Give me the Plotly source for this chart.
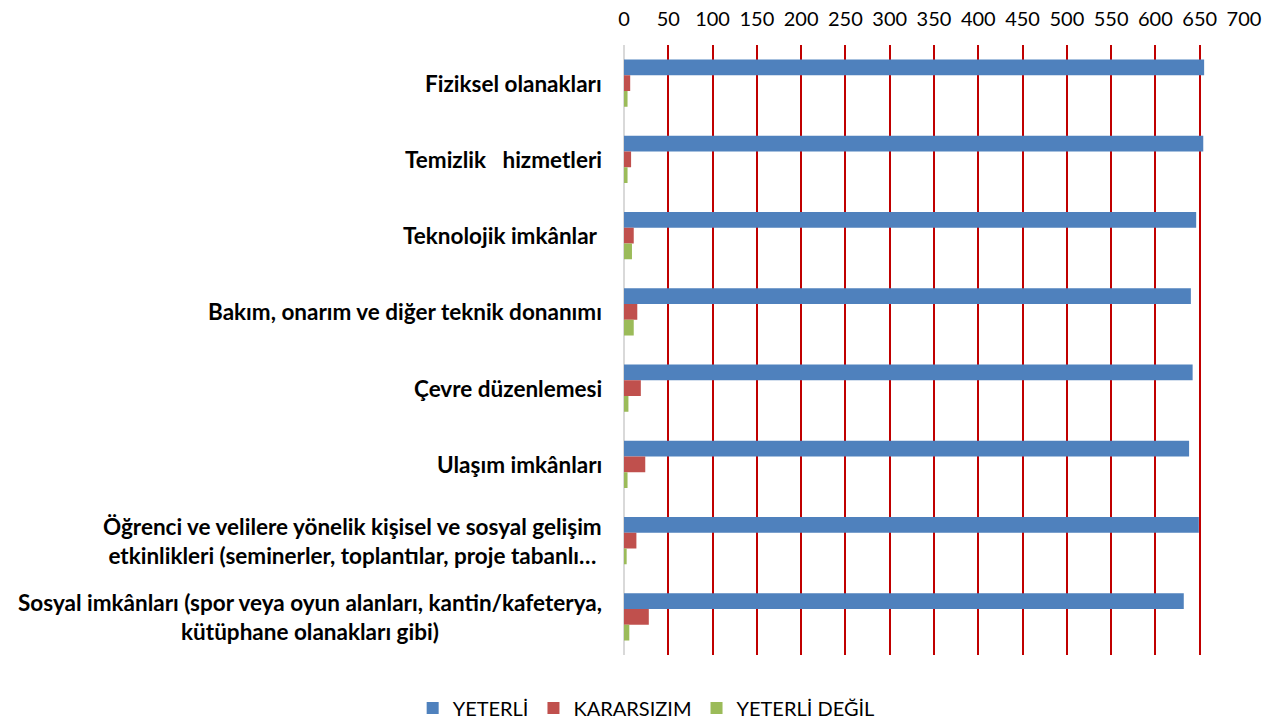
import plotly.graph_objects as go

categories = [
    "Fiziksel olanakları",
    "Temizlik   hizmetleri",
    "Teknolojik imkânlar ",
    "Bakım, onarım ve diğer teknik donanımı",
    "Çevre düzenlemesi",
    "Ulaşım imkânları",
    "Öğrenci ve velilere yönelik kişisel ve sosyal gelişim<br>etkinlikleri (seminerler, toplantılar, proje tabanlı…",
    "Sosyal imkânları (spor veya oyun alanları, kantin/kafeterya,<br>kütüphane olanakları gibi)",
]
yeterli = [655, 654, 646, 640, 642, 638, 649, 632]
kararsizim = [7, 8, 11, 15, 19, 24, 14, 28]
yeterli_degil = [4, 4, 9, 11, 5, 4, 3, 6]
series_names = ["YETERLİ", "KARARSIZIM", "YETERLİ DEĞİL"]
tick_values = list(range(0, 701, 50))

colors = ["#4F81BD", "#C0504D", "#9BBB59"]
FONT = "Lato"

fig = go.Figure()
for name, vals, col in zip(series_names, [yeterli, kararsizim, yeterli_degil], colors):
    fig.add_trace(go.Bar(
        y=categories, x=vals, name=name, orientation="h",
        marker=dict(color=col, line=dict(width=0)),
    ))

for cat in categories:
    fig.add_annotation(
        x=0, xref="paper", xanchor="right", xshift=-20,
        y=cat, yref="y", yanchor="middle",
        text=cat.replace("   ", "\u00a0\u00a0\u00a0"), showarrow=False, align="center",
        font=dict(family=FONT, size=22.5, color="#000000", weight=700),
    )

fig.update_layout(
    width=1267, height=725,
    margin=dict(l=624, r=23, t=45, b=70),
    paper_bgcolor="white", plot_bgcolor="white",
    barmode="group", bargap=0.38, bargroupgap=0,
    font=dict(family=FONT, size=20, color="#000000"),
    xaxis=dict(
        side="top", range=[0, 700], tickvals=tick_values, ticktext=[str(v) for v in tick_values],
        showgrid=True, gridcolor="#C00000", gridwidth=2,
        zeroline=True, zerolinecolor="#D9D9D9", zerolinewidth=2,
        showline=False, ticks="", tickfont=dict(family=FONT, size=20),
        ticklabelstandoff=14, automargin=False, fixedrange=True,
    ),
    yaxis=dict(
        autorange="reversed", showticklabels=False, showgrid=False,
        zeroline=False, showline=False, ticks="", automargin=False,
    ),
    legend=dict(
        orientation="h", xref="container", yref="container",
        x=0.51, xanchor="center", y=0.0235, yanchor="middle",
        font=dict(family=FONT, size=20), traceorder="normal",
    ),
)

fig.write_html(
    "out.html",
    config={"displayModeBar": False},
    post_script="document.body.style.margin='0';",
)
